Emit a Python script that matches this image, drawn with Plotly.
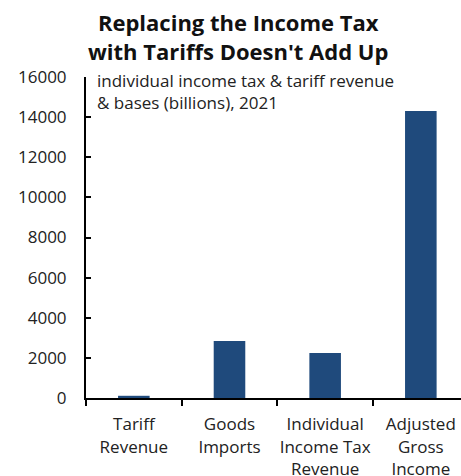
import plotly.graph_objects as go

categories = ["Tariff Revenue", "Goods Imports", "Individual Income Tax Revenue", "Adjusted Gross Income"]
tick_labels = ["Tariff<br>Revenue", "Goods<br>Imports", "Individual<br>Income Tax<br>Revenue", "Adjusted<br>Gross<br>Income"]
values = [110, 2840, 2240, 14300]
y_ticks = [0, 2000, 4000, 6000, 8000, 10000, 12000, 14000, 16000]
y_tick_text = ["0", "2000", "4000", "6000", "8000", "10000", "12000", "14000", "16000"]

FONT = "Open Sans"
fig = go.Figure(go.Bar(x=categories, y=values, marker=dict(color="#1f4a7c", line=dict(width=0)), width=0.33))

fig.update_layout(
    width=461, height=476,
    margin=dict(l=86, r=0, t=77, b=78, autoexpand=False),
    plot_bgcolor="white", paper_bgcolor="white",
    showlegend=False,
    font=dict(family=FONT, size=17, color="#222222"),
)
fig.update_xaxes(
    type="category", range=[-0.5, 3.42], automargin=False,
    tickvals=categories, ticktext=tick_labels, tickangle=0,
    showline=True, linecolor="black", linewidth=2,
    ticks="outside", tickson="boundaries", ticklen=6, tickwidth=2, tickcolor="black",
    showgrid=False, ticklabelstandoff=10,
    tickfont=dict(family=FONT, size=17, color="#222222"),
)
fig.update_yaxes(
    range=[0, 16000], tickvals=y_ticks, ticktext=y_tick_text, automargin=False,
    showline=True, linecolor="black", linewidth=2,
    ticks="inside", ticklen=5, tickwidth=2, tickcolor="black",
    showgrid=False, zeroline=False, ticklabelstandoff=14,
    tickfont=dict(family=FONT, size=17, color="#222222"),
)
fig.add_annotation(
    text="<b>Replacing the Income Tax<br>with Tariffs Doesn't Add Up</b>",
    xref="paper", yref="paper", x=0.405, y=1.0, yshift=72, xanchor="center", yanchor="top",
    showarrow=False, align="center", font=dict(family=FONT, size=22, color="#111111"),
)
fig.add_annotation(
    text="individual income tax & tariff revenue<br>& bases (billions), 2021",
    xref="paper", yref="paper", x=0.024, y=1.0, yshift=10, xanchor="left", yanchor="top",
    showarrow=False, align="left", font=dict(family=FONT, size=17, color="#222222"),
)
fig.write_html("out.html")
